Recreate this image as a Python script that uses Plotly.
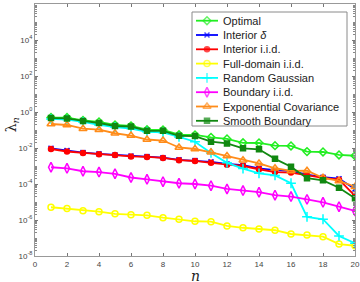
import plotly.graph_objects as go

n = list(range(1, 21))

optimal = [0.49, 0.49, 0.34, 0.28, 0.19, 0.17, 0.104, 0.1, 0.055, 0.053,
           0.039, 0.032, 0.0195, 0.019, 0.0135, 0.013, 0.0063, 0.006, 0.0041, 0.0037]
interior_delta = [0.0096, 0.0072, 0.0056, 0.0047, 0.0041, 0.0036, 0.0034, 0.0029, 0.0022, 0.002,
                  0.0017, 0.0013, 0.0011, 7.4e-4, 5.9e-4, 5.3e-4, 3.3e-4, 2.4e-4, 1.96e-4, 5.3e-5]
interior_iid = [0.0088, 0.0064, 0.0053, 0.0045, 0.0041, 0.0034, 0.0032, 0.0028, 0.0021, 0.0019,
                0.0015, 0.00118, 0.001, 6.6e-4, 4.6e-4, 4.3e-4, 3.0e-4, 2.2e-4, 1.74e-4, 2.2e-5]
full_domain = [5.1e-6, 4.3e-6, 3.3e-6, 2.9e-6, 2.2e-6, 1.96e-6, 1.82e-6, 1.35e-6, 1.1e-6, 8.5e-7,
               8.1e-7, 4.7e-7, 3.7e-7, 3.2e-7, 2.7e-7, 1.67e-7, 1.47e-7, 1.18e-7, 4.6e-8, 3.7e-8]
random_gauss = [0.41, 0.38, 0.28, 0.19, 0.147, 0.12, 0.08, 0.073, 0.041, 0.0224,
                0.0053, 0.0015, 7.2e-4, 3.9e-4, 3.0e-4, 1.1e-4, 1.5e-6, 1.1e-6, 1.3e-7, 5.1e-8]
boundary_iid = [8.5e-4, 7.4e-4, 5.1e-4, 4.6e-4, 3.7e-4, 2.3e-4, 1.82e-4, 1.35e-4, 1.1e-4, 1.0e-4,
                8.1e-5, 5.3e-5, 4.3e-5, 3.5e-5, 2.4e-5, 2.0e-5, 1.4e-5, 9.6e-6, 5.5e-6, 3.2e-6]
exp_cov = [0.215, 0.19, 0.118, 0.104, 0.066, 0.049, 0.0296, 0.026, 0.0107, 0.0088,
           0.0058, 0.0036, 0.0021, 0.0014, 7.5e-4, 5.3e-4, 5.5e-4, 2.2e-4, 1.47e-4, 7.1e-5]
smooth_bnd = [0.46, 0.44, 0.32, 0.245, 0.167, 0.156, 0.091, 0.09, 0.048, 0.046,
              0.0224, 0.018, 0.0096, 0.0085, 0.0025, 0.00092, 0.00021, 0.00016, 6.2e-5, 1.6e-5]

y_tick_vals = [1e-8, 1e-6, 1e-4, 1e-2, 1e0, 1e2, 1e4, 1e6]
y_tick_text = ["10<sup>-8</sup>", "10<sup>-6</sup>", "10<sup>-4</sup>", "10<sup>-2</sup>",
               "10<sup>0</sup>", "10<sup>2</sup>", "10<sup>4</sup>", "10<sup>6</sup>"]
x_tick_vals = list(range(0, 21, 2))

series = [
    ("Optimal", optimal, "#22ee22", "diamond-open", 6),
    ("Interior <i>δ</i>", interior_delta, "#0000ff", "x-thin", 5),
    ("Interior i.i.d.", interior_iid, "#ff0000", "circle", 5),
    ("Full-domain i.i.d.", full_domain, "#ffff00", "circle-open", 6),
    ("Random Gaussian", random_gauss, "#00ffff", "cross-thin", 7),
    ("Boundary i.i.d.", boundary_iid, "#ff00ff", "diamond-tall-open", 7),
    ("Exponential Covariance", exp_cov, "#ff8c1a", "triangle-up-open", 7),
    ("Smooth Boundary", smooth_bnd, "#118811", "square", 5),
]

fig = go.Figure()
for name, vals, col, sym, sz in series:
    fig.add_trace(go.Scatter(
        x=n, y=vals, name=name, mode="lines+markers", showlegend=False,
        line=dict(color=col, width=1.8),
        marker=dict(symbol=sym, size=sz, color=col, line=dict(color=col, width=1.5)),
    ))

# ---- manual legend (overlay axes in plot-area pixel units) ----
L_X0, L_X1, L_Y0, L_Y1 = 157, 312, 8, 122   # box inside plot area (px from plot top-left)
ROW0, ROW_H = 16.7, 14.3
fig.add_shape(type="rect", xref="x2", yref="y2", x0=L_X0, x1=L_X1, y0=L_Y0, y1=L_Y1,
              line=dict(color="#8a8a8a", width=1), fillcolor="white", layer="below")
for i, (name, vals, col, sym, sz) in enumerate(series):
    yy = ROW0 + i * ROW_H
    fig.add_trace(go.Scatter(
        x=[L_X0 + 4, L_X0 + 15, L_X0 + 26], y=[yy, yy, yy], xaxis="x2", yaxis="y2",
        mode="lines+markers", showlegend=False, hoverinfo="skip",
        line=dict(color=col, width=1.8),
        marker=dict(symbol=sym, size=[0, sz, 0], color=col, line=dict(color=col, width=1.5)),
    ))
    fig.add_annotation(x=L_X0 + 29, y=yy, xref="x2", yref="y2", text=name, showarrow=False,
                       xanchor="left", yanchor="middle",
                       font=dict(family="Liberation Sans, Arial", size=11, color="#222222"))

axis_common = dict(
    showline=True, linecolor="#999999", linewidth=1, mirror="ticks",
    ticks="inside", tickcolor="#777777", ticklen=3, showgrid=False, zeroline=False,
    automargin=False,
    tickfont=dict(family="Liberation Sans, Arial", size=8, color="#444444"),
)

fig.update_layout(
    width=360, height=282,
    margin=dict(l=35, r=5, t=4, b=26, autoexpand=False),
    paper_bgcolor="white", plot_bgcolor="white",
    font=dict(family="Liberation Sans, Arial", size=11, color="#222222"),
    showlegend=False,
    xaxis=dict(range=[0, 20], tickvals=x_tick_vals, **axis_common),
    yaxis=dict(type="log", range=[-8, 6], tickvals=y_tick_vals, ticktext=y_tick_text,
               minor=dict(ticks="inside", ticklen=2, tickcolor="#888888", dtick="D1"),
               **axis_common),
    xaxis2=dict(range=[0, 320], overlaying="x", anchor="y2", visible=False, fixedrange=True),
    yaxis2=dict(range=[252, 0], overlaying="y", anchor="x2", visible=False, fixedrange=True),
)

fig.add_annotation(x=0.503, y=-0.08, xref="paper", yref="paper", yanchor="middle",
                   text="<i>n</i>", showarrow=False,
                   font=dict(family="DejaVu Serif, Liberation Serif", size=14, color="#222222"))
fig.add_annotation(x=-0.105, y=0.52, xref="paper", yref="paper", textangle=-90,
                   text="λ<sub><i>n</i></sub>", showarrow=False,
                   font=dict(family="DejaVu Serif, Liberation Serif", size=14, color="#222222"))

fig.write_html("out.html", config={"displayModeBar": False},
               post_script="document.body.style.margin='0';")
